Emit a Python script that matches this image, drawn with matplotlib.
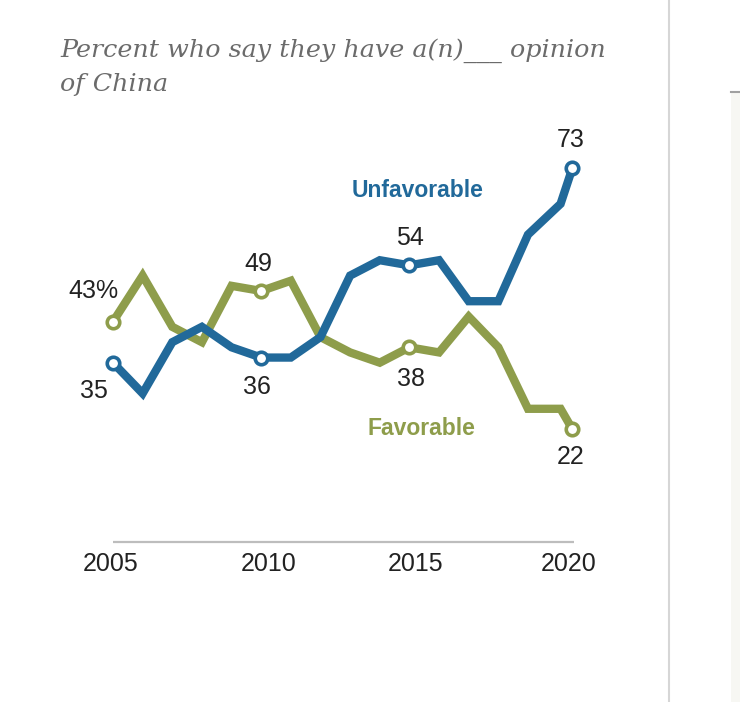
import matplotlib
matplotlib.use('Agg')
import matplotlib.pyplot as plt
from matplotlib.lines import Line2D
from matplotlib.patches import Rectangle

"""
data
"""
YEARS = [2005, 2006, 2007, 2008, 2009, 2010, 2011, 2012, 2013, 2014,
         2015, 2016, 2017, 2018, 2019, 2020.1, 2020.5]
UNFAVORABLE = [35, 29, 39, 42, 38, 36, 36, 40, 52, 55, 54, 55, 47, 47, 60, 66, 73]
FAVORABLE = [43, 52, 42, 39, 50, 49, 51, 40, 37, 35, 38, 37, 44, 38, 26, 26, 22]

# points that get a ring marker and a value label
MARKED = [0, 5, 10, 16]
UNFAV_LABELS = ['35', '36', '54', '73']
FAV_LABELS = ['43%', '49', '38', '22']

TICK_YEARS = [2005, 2010, 2015, 2020]
TICK_LABELS = ['2005', '2010', '2015', '2020']

TITLE_LINES = ['Percent who say they have a(n)___ opinion', 'of China']

"""
style
"""
W, H, DPI = 740, 702, 100
BLUE = '#21699a'
GREEN = '#8e9d4b'
TEXT = '#222222'
TITLE_GRAY = '#6b6b6b'
SANS = ['Liberation Sans', 'DejaVu Sans']

# label offsets from their point, in pixels (x right, y up, to text centre)
UNFAV_OFFS = [(-19, -26), (-4, -27), (1, 29), (-2, 30)]
FAV_OFFS = [(-20, 33), (-3, 29), (2, -30), (-2, -26)]
TICK_SHIFT = [-2, 7, 6, 11]
CAP_HALF = 9


def px(x, y):
    return x / W, 1 - y / H


def label_points(ax, values, labels, offs):
    for i, text, (dx, dy) in zip(MARKED, labels, offs):
        ax.annotate(text, (YEARS[i], values[i]),
                    xytext=(dx * 72 / DPI, (dy - CAP_HALF) * 72 / DPI),
                    textcoords='offset points', ha='center', va='baseline',
                    fontsize=18, color=TEXT, family=SANS)


def createGraph():
    fig = plt.figure(figsize=(W / DPI, H / DPI), dpi=DPI)
    ax = fig.add_axes([60 / W, 1 - 542 / H, 560 / W, 422 / H])
    ax.set_xlim(2003.212, 2022.105)
    ax.set_ylim(0, 82.37)
    ax.axis('off')

    for values, color in ((FAVORABLE, GREEN), (UNFAVORABLE, BLUE)):
        ax.plot(YEARS, values, color=color, lw=6.0, solid_joinstyle='miter',
                solid_capstyle='butt', zorder=2)
        ax.plot([YEARS[i] for i in MARKED], [values[i] for i in MARKED],
                ls='none', marker='o', ms=9, mfc='white', mec=color, mew=2.6,
                zorder=3)

    # baseline and year labels
    ax.hlines(0, YEARS[0], YEARS[-1] + 0.05, color='#bdbdbd', lw=1.6,
              clip_on=False)
    for yr, text, sh in zip(TICK_YEARS, TICK_LABELS, TICK_SHIFT):
        ax.annotate(text, (yr, 0), xytext=(sh * 72 / DPI, -29 * 72 / DPI),
                    textcoords='offset points', ha='center', va='baseline',
                    fontsize=18, color=TEXT, family=SANS, annotation_clip=False)

    label_points(ax, UNFAVORABLE, UNFAV_LABELS, UNFAV_OFFS)
    label_points(ax, FAVORABLE, FAV_LABELS, FAV_OFFS)

    fig.text(*px(418, 197), 'Unfavorable', ha='center', va='baseline',
             fontsize=16.5, fontweight='bold', color=BLUE, family=SANS)
    fig.text(*px(421, 435), 'Favorable', ha='center', va='baseline',
             fontsize=16.5, fontweight='bold', color=GREEN, family=SANS)

    # title
    for line, base in zip(TITLE_LINES, (57, 91)):
        fig.text(*px(60, base), line, ha='left', va='baseline', fontsize=18.3,
                 style='italic', family=['DejaVu Serif'], color=TITLE_GRAY)

    # page furniture on the right
    fig.add_artist(Line2D([669 / W, 669 / W], [0, 1], color='#d6d6d6', lw=1.5))
    fig.add_artist(Rectangle((731 / W, 0), (W - 731) / W, 1 - 92 / H,
                             color='#f7f7f3', lw=0))
    fig.add_artist(Line2D([731 / W, 1], [1 - 92 / H] * 2, color='#a0a0a0', lw=1.5))

    fig.savefig('out.png', dpi=DPI)


def main():
    createGraph()


if __name__ == '__main__':
    main()
